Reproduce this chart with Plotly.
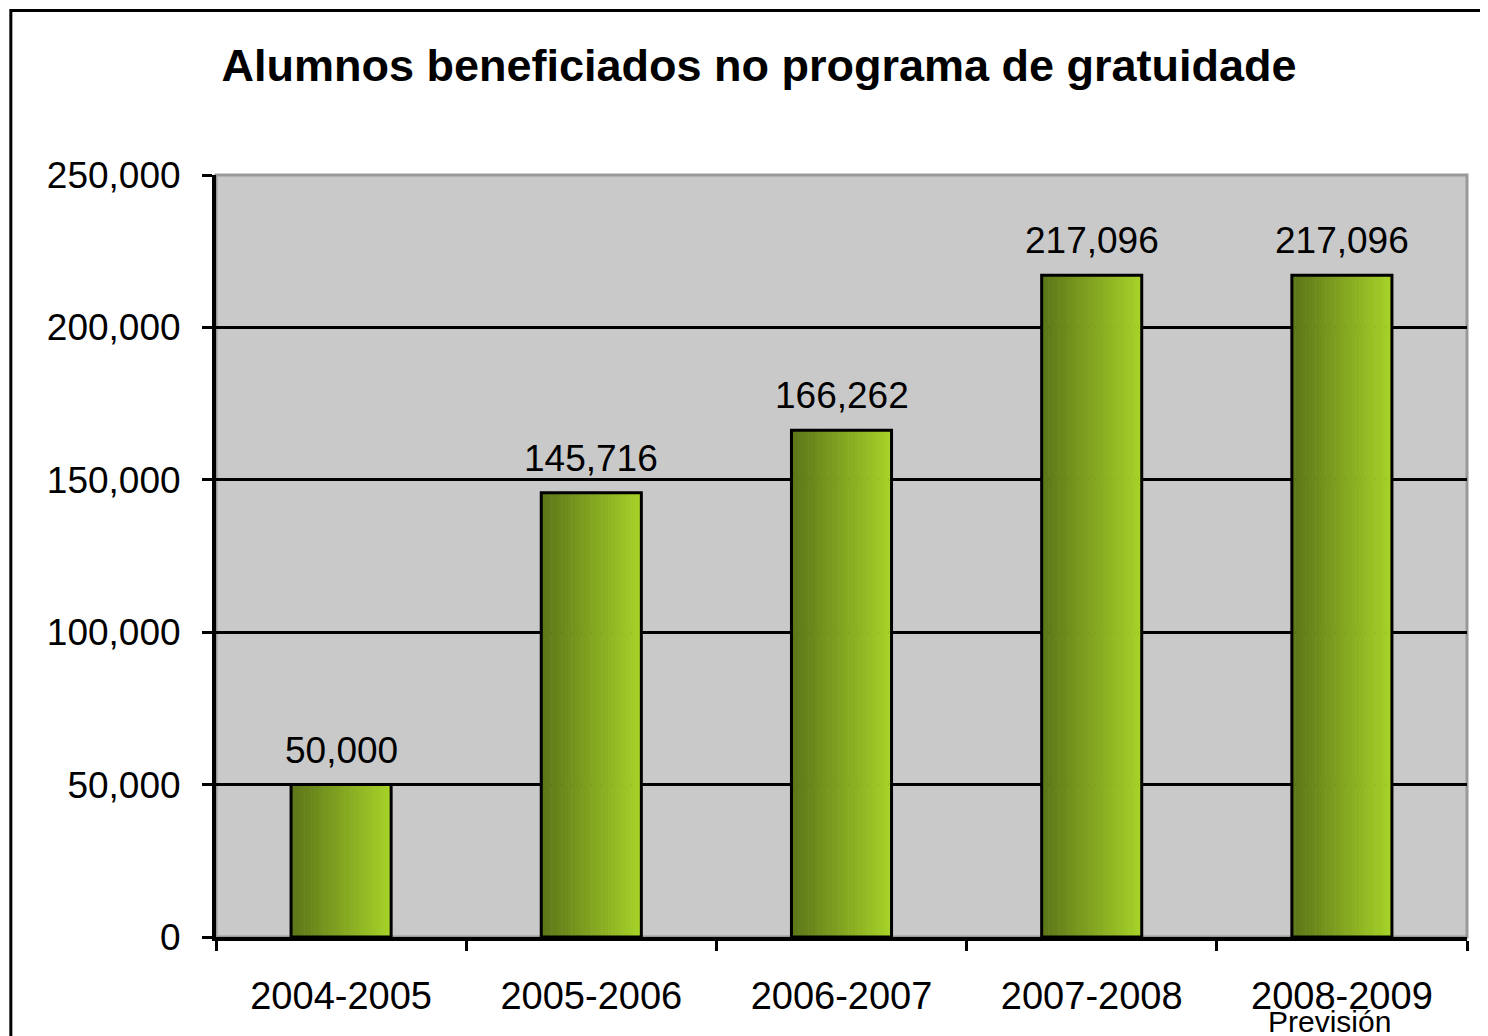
import plotly.graph_objects as go

# data
categories = ["2004-2005", "2005-2006", "2006-2007", "2007-2008", "2008-2009"]
alumnos = [50000, 145716, 166262, 217096, 217096]
y_ticks = [0, 50000, 100000, 150000, 200000, 250000]
note_category = "2008-2009"
note_text = "Previsión"

FONT = "Liberation Sans, Arial, sans-serif"
DARK = (92, 118, 24)
LIGHT = (166, 210, 40)
BAR_WIDTH = 0.4
N_SLICES = 30

fig = go.Figure()

# fake a left-to-right gradient with thin overlaid bars
slice_w = BAR_WIDTH / N_SLICES
for i in range(N_SLICES):
    t = i / (N_SLICES - 1)
    col = tuple(round(d + (l - d) * t) for d, l in zip(DARK, LIGHT))
    fig.add_trace(
        go.Bar(
            x=categories,
            y=alumnos,
            width=slice_w * 1.15,
            offset=-BAR_WIDTH / 2 + i * slice_w,
            marker=dict(color="rgb(%d,%d,%d)" % col, line=dict(width=0)),
            hoverinfo="skip",
        )
    )

# outline on top
fig.add_trace(
    go.Bar(
        x=categories,
        y=alumnos,
        width=BAR_WIDTH,
        marker=dict(color="rgba(0,0,0,0)", line=dict(color="black", width=3)),
    )
)

# value labels
for c, v in zip(categories, alumnos):
    fig.add_annotation(
        x=c, y=v, text=f"{v:,}", showarrow=False,
        yanchor="bottom", yshift=12,
        font=dict(family=FONT, size=37, color="black"),
    )

fig.add_annotation(
    x=note_category, y=0, yref="y", text=note_text, showarrow=False,
    yanchor="top", yshift=-66, xshift=-12,
    font=dict(family=FONT, size=30, color="black"),
)

# plot area border (top / right grey)
fig.add_shape(
    type="rect", xref="x domain", yref="y domain", x0=0, x1=1, y0=0, y1=1,
    line=dict(color="#999999", width=3), layer="below",
)
# outer frame
fig.add_shape(
    type="rect", xref="paper", yref="paper", x0=-0.164, x1=1.2, y0=-0.3, y1=1.216,
    line=dict(color="black", width=3),
)

fig.update_layout(
    width=1488,
    height=1036,
    barmode="overlay",
    showlegend=False,
    paper_bgcolor="white",
    plot_bgcolor="#C9C9C9",
    margin=dict(l=208, r=29, t=167, b=107),
    title=dict(
        text="<b>Alumnos beneficiados no programa de gratuidade</b>",
        x=751 / 1488, xanchor="center", y=1 - 57 / 1036, yanchor="middle",
        font=dict(family=FONT, size=45, color="black"),
    ),
    font=dict(family=FONT, color="black"),
)

fig.update_xaxes(
    type="category",
    tickson="boundaries",
    ticks="outside",
    ticklen=10,
    tickwidth=3,
    tickcolor="black",
    showline=True,
    linecolor="black",
    linewidth=4,
    showgrid=False,
    tickfont=dict(family=FONT, size=38, color="black"),
    ticklabelstandoff=22,
)
fig.update_yaxes(
    range=[0, 250000],
    tickvals=y_ticks,
    tickformat=",",
    ticks="outside",
    ticklen=10,
    tickwidth=3,
    tickcolor="black",
    showline=True,
    linecolor="black",
    linewidth=4,
    showgrid=True,
    gridcolor="black",
    gridwidth=3,
    zeroline=False,
    tickfont=dict(family=FONT, size=37, color="black"),
    ticklabelstandoff=14,
)

fig.write_html("out.html")
